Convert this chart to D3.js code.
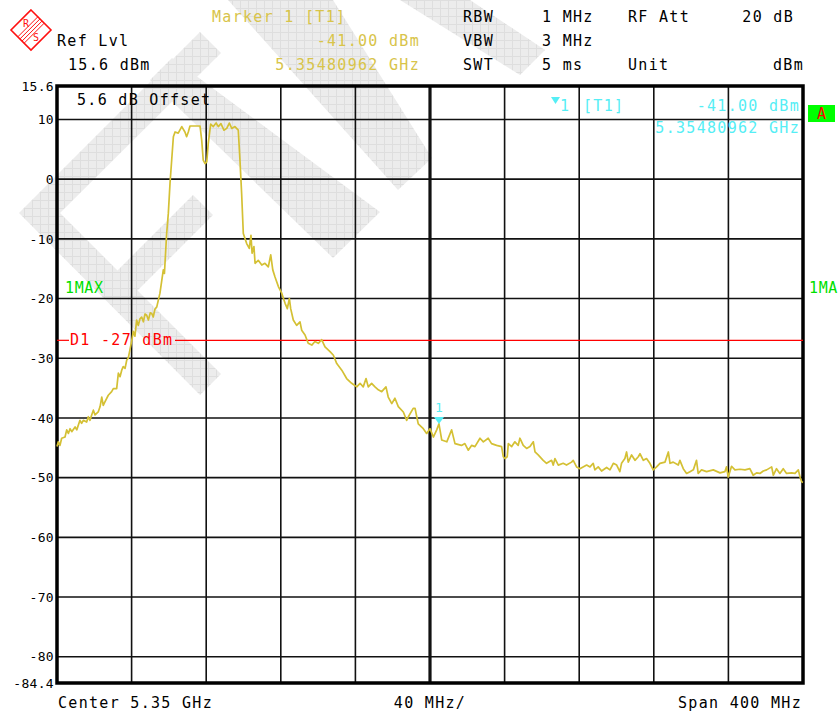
<!DOCTYPE html>
<html>
<head>
<meta charset="utf-8">
<script src="https://cdn.jsdelivr.net/npm/d3@7"></script>
<style>
  body { margin: 0; background: #fff; }
  text { font-family: 'DejaVu Sans Mono', monospace; }
</style>
</head>
<body>
<script>
  // sweep settings
  const startMHz = 5150;
  const stopMHz = 5550;
  const refLevel = 15.6;
  const bottomLevel = -84.4;

  const freqTicks = [5150, 5190, 5230, 5270, 5310, 5350, 5390, 5430, 5470, 5510, 5550];
  const levelTicks = [10, 0, -10, -20, -30, -40, -50, -60, -70, -80];
  const levelLabels = ['15.6', '10', '0', '-10', '-20', '-30', '-40', '-50', '-60', '-70', '-80', '-84.4'];
  const labelLevels = [15.6, 10, 0, -10, -20, -30, -40, -50, -60, -70, -80, -84.4];

  const displayLine = -27;
  const marker = { freq: 5354.80962, level: -41.0 };

  const headerLeft = ['Ref Lvl', '15.6 dBm'];
  const markerHead = ['Marker 1 [T1]', '-41.00 dBm', '5.35480962 GHz'];
  const settingNames = ['RBW', 'VBW', 'SWT'];
  const settingValues = ['1 MHz', '3 MHz', '5 ms'];
  const bottomLabels = ['Center 5.35 GHz', '40 MHz/', 'Span 400 MHz'];

  // max hold trace, [MHz, dBm]
  const trace = [
    [5150.0,-44.8],[5150.7,-44.0],[5151.6,-44.6],[5152.5,-43.4],[5154.3,-43.2],[5155.2,-42.0],[5156.1,-42.6],
    [5157.0,-41.8],[5157.9,-42.3],[5159.7,-41.5],[5160.6,-42.0],[5162.3,-40.4],[5163.2,-40.9],[5164.1,-40.4],
    [5165.9,-40.7],[5166.8,-39.8],[5167.7,-40.4],[5168.6,-39.5],[5169.5,-38.7],[5170.4,-39.5],[5172.1,-39.0],
    [5173.1,-38.1],[5174.0,-36.5],[5174.8,-37.9],[5175.7,-37.3],[5177.5,-36.2],[5179.3,-35.6],[5180.2,-35.1],
    [5182.0,-35.1],[5182.9,-32.5],[5183.8,-33.1],[5184.7,-32.0],[5185.5,-31.4],[5186.5,-31.7],[5187.4,-30.3],
    [5188.2,-30.0],[5189.1,-28.6],[5190.1,-27.0],[5190.9,-25.5],[5191.8,-26.3],[5192.7,-23.6],[5193.6,-24.5],
    [5194.5,-23.4],[5195.4,-23.1],[5196.3,-23.9],[5197.2,-22.6],[5198.1,-22.8],[5199.0,-23.6],[5200.0,-22.4],
    [5200.8,-22.5],[5201.6,-23.1],[5202.5,-21.8],[5203.5,-21.4],[5205.2,-19.1],[5207.0,-15.2],[5207.6,-15.8],
    [5208.8,-9.1],[5209.7,-5.7],[5210.6,-0.7],[5211.5,3.2],[5212.4,7.1],[5213.3,7.9],[5215.0,7.7],
    [5216.9,8.8],[5218.6,7.9],[5219.5,7.1],[5220.4,7.9],[5221.3,8.9],[5224.0,8.9],[5226.7,8.9],
    [5227.6,6.5],[5228.4,3.2],[5229.4,2.6],[5230.3,2.9],[5231.1,6.0],[5232.4,9.2],[5233.8,8.8],
    [5235.3,9.4],[5236.5,8.8],[5237.9,9.3],[5239.5,8.2],[5241.0,8.5],[5242.4,9.4],[5243.7,8.5],
    [5245.4,8.8],[5247.2,8.2],[5248.1,3.2],[5249.0,-2.4],[5249.9,-9.1],[5251.7,-10.8],[5253.1,-11.6],
    [5254.0,-9.4],[5254.6,-12.4],[5255.6,-11.3],[5256.2,-14.1],[5257.9,-13.6],[5259.8,-14.4],[5261.5,-14.1],
    [5263.3,-14.7],[5264.6,-12.7],[5265.7,-15.2],[5266.9,-16.4],[5268.7,-18.0],[5270.5,-19.1],[5272.3,-20.8],
    [5273.5,-21.7],[5274.6,-20.0],[5275.3,-21.7],[5276.7,-23.6],[5278.5,-24.5],[5280.3,-23.9],[5281.2,-25.3],
    [5283.0,-26.1],[5284.7,-27.5],[5286.6,-27.8],[5288.3,-27.2],[5290.1,-27.5],[5291.9,-26.9],[5293.7,-28.1],
    [5296.4,-28.9],[5298.2,-29.5],[5300.0,-30.9],[5302.7,-32.0],[5305.3,-33.4],[5308.0,-34.2],[5310.7,-34.8],
    [5312.5,-34.2],[5314.2,-34.8],[5315.7,-33.4],[5316.9,-34.8],[5318.7,-34.2],[5320.5,-34.8],[5322.3,-35.3],
    [5324.1,-35.6],[5326.4,-34.8],[5327.6,-36.5],[5329.5,-37.6],[5331.2,-36.7],[5333.0,-38.1],[5335.7,-39.0],
    [5337.5,-40.4],[5338.4,-39.8],[5341.0,-38.4],[5342.0,-38.4],[5342.9,-39.8],[5343.7,-41.0],[5346.4,-41.8],
    [5348.2,-42.6],[5350.0,-41.8],[5351.8,-43.2],[5353.6,-42.0],[5354.8,-41.0],[5356.3,-43.7],[5359.0,-44.0],
    [5361.6,-42.0],[5363.4,-44.3],[5366.9,-44.6],[5368.7,-44.3],[5370.5,-45.4],[5372.3,-44.6],[5374.1,-44.8],
    [5376.8,-43.4],[5378.6,-44.0],[5381.2,-43.4],[5383.0,-44.3],[5385.7,-44.6],[5388.4,-44.8],[5389.3,-46.5],
    [5390.2,-46.8],[5391.4,-46.5],[5392.0,-44.3],[5393.8,-44.8],[5395.5,-44.0],[5397.3,-44.6],[5398.2,-43.4],
    [5400.0,-44.6],[5401.8,-45.1],[5403.6,-44.8],[5405.4,-44.0],[5406.3,-45.7],[5408.0,-46.2],[5410.7,-47.1],
    [5412.5,-47.6],[5415.2,-47.1],[5416.1,-47.9],[5417.0,-46.8],[5418.8,-47.9],[5421.4,-47.6],[5423.2,-47.9],
    [5425.9,-47.4],[5426.8,-47.1],[5428.6,-48.2],[5430.4,-48.5],[5434.0,-47.9],[5435.8,-48.2],[5437.5,-47.6],
    [5438.4,-48.7],[5440.2,-48.2],[5442.0,-48.9],[5444.7,-48.3],[5446.5,-48.7],[5448.3,-47.6],[5450.1,-47.9],
    [5451.8,-49.0],[5452.7,-47.6],[5454.5,-46.8],[5455.4,-45.7],[5456.3,-47.4],[5458.1,-46.2],[5459.9,-47.1],
    [5461.7,-46.5],[5462.6,-46.0],[5464.4,-47.1],[5466.1,-46.8],[5467.9,-47.6],[5469.7,-48.7],[5471.5,-48.2],
    [5473.3,-47.6],[5476.0,-47.4],[5477.8,-45.7],[5478.7,-47.6],[5480.4,-47.4],[5483.1,-47.9],[5484.0,-47.1],
    [5485.8,-48.5],[5487.6,-49.3],[5489.4,-49.0],[5491.2,-48.7],[5492.9,-47.1],[5493.8,-49.3],[5495.6,-48.7],
    [5498.3,-49.0],[5501.9,-48.7],[5505.5,-49.2],[5508.1,-49.0],[5509.0,-48.2],[5509.9,-49.9],[5511.7,-48.1],
    [5513.5,-48.7],[5516.2,-48.6],[5518.9,-48.7],[5521.5,-48.5],[5523.3,-49.6],[5525.1,-49.2],[5526.9,-49.3],
    [5528.7,-48.9],[5530.5,-48.7],[5533.2,-48.2],[5534.1,-49.6],[5535.8,-48.5],[5537.6,-49.3],[5539.4,-48.5],
    [5541.2,-49.3],[5543.9,-49.2],[5545.7,-49.3],[5547.5,-48.7],[5548.4,-49.9],[5549.3,-50.7],[5550.0,-50.8]
  ];

  // light R&S watermark behind the screen (screen pixels)
  const watermark = [
    [[19,213],[200,32],[221,53],[60,213]],
    [[19,213],[60,213],[221,374],[200,395]],
    [[193,195],[213,215],[137,291],[117,271]],
    [[150,80],[172,58],[380,212],[333,258]],
    [[228,0],[333,0],[432,158],[398,190]],
    [[400,0],[470,0],[545,50],[520,75]]
  ];

  const width = 840;
  const height = 713;
  const plot = { left: 57, right: 803, top: 86, bottom: 683 };

  const svg = d3.select('body')
          .append('svg')
          .attr('width', width)
          .attr('height', height);

  const x = d3.scaleLinear().domain([startMHz, stopMHz]).range([plot.left, plot.right]);
  const y = d3.scaleLinear().domain([bottomLevel, refLevel]).range([plot.bottom, plot.top]);

  // hatch pattern for the watermark
  const pat = svg.append('defs').append('pattern')
          .attr('id', 'hatch')
          .attr('patternUnits', 'userSpaceOnUse')
          .attr('width', 8).attr('height', 8);
  pat.append('rect').attr('width', 8).attr('height', 8).attr('fill', '#ececec');
  pat.append('path').attr('d', 'M0 0.5H8M0.5 0V8').attr('stroke', '#dedede').attr('stroke-width', 1);

  svg.append('g')
          .selectAll('polygon')
          .data(watermark)
          .enter()
          .append('polygon')
          .attr('points', d => d.map(p => p.join(',')).join(' '))
          .attr('fill', 'url(#hatch)');

  // R&S logo
  const logo = svg.append('g').attr('transform', 'translate(31,30)');
  logo.append('path')
          .attr('d', 'M0 -20L20 0L0 20L-20 0Z')
          .attr('fill', 'none').attr('stroke', '#ff1010').attr('stroke-width', 1.6);
  [-4.5, -1.5, 1.5, 4.5].forEach(o => {
    const k = o / Math.SQRT2;
    logo.append('line')
            .attr('x1', -10 + k).attr('y1', 10 + k).attr('x2', 10 + k).attr('y2', -10 + k)
            .attr('stroke', '#ff1010').attr('stroke-width', 1);
  });
  logo.append('text').attr('x', -8).attr('y', -3).attr('font-size', 10).attr('fill', '#ff1010').text('R');
  logo.append('text').attr('x', 2).attr('y', 11).attr('font-size', 10).attr('fill', '#ff1010').text('S');

  const head = svg.append('g')
          .attr('font-size', 15)
          .attr('letter-spacing', 1.3);

  head.append('text').attr('x', 57).attr('y', 46).attr('fill', '#000').text(headerLeft[0]);
  head.append('text').attr('x', 68).attr('y', 70).attr('fill', '#000').text(headerLeft[1]);

  head.append('text').attr('x', 212).attr('y', 22).attr('fill', '#d8c44a').text(markerHead[0]);
  head.selectAll('.mval')
          .data(markerHead.slice(1))
          .enter()
          .append('text')
          .attr('x', 420)
          .attr('y', (d, i) => 46 + i * 24)
          .attr('text-anchor', 'end')
          .attr('fill', '#d8c44a')
          .text(d => d);

  head.selectAll('.sname')
          .data(settingNames)
          .enter()
          .append('text')
          .attr('x', 463)
          .attr('y', (d, i) => 22 + i * 24)
          .text(d => d);
  head.selectAll('.sval')
          .data(settingValues)
          .enter()
          .append('text')
          .attr('x', 542)
          .attr('y', (d, i) => 22 + i * 24)
          .text(d => d);
  head.append('text').attr('x', 628).attr('y', 22).text('RF Att');
  head.append('text').attr('x', 794).attr('y', 22).attr('text-anchor', 'end').text('20 dB');
  head.append('text').attr('x', 628).attr('y', 70).text('Unit');
  head.append('text').attr('x', 804).attr('y', 70).attr('text-anchor', 'end').text('dBm');

  // grid
  const grid = svg.append('g').attr('stroke', '#111').attr('stroke-width', 1.6);
  grid.selectAll('.vline')
          .data(freqTicks.slice(1, -1))
          .enter()
          .append('line')
          .attr('x1', d => x(d)).attr('x2', d => x(d))
          .attr('y1', plot.top).attr('y2', plot.bottom)
          .attr('stroke-width', d => d === 5350 ? 3.2 : 1.6);
  grid.selectAll('.hline')
          .data(levelTicks)
          .enter()
          .append('line')
          .attr('x1', plot.left).attr('x2', plot.right)
          .attr('y1', d => y(d)).attr('y2', d => y(d));

  svg.append('rect')
          .attr('x', plot.left).attr('y', plot.top)
          .attr('width', plot.right - plot.left).attr('height', plot.bottom - plot.top)
          .attr('fill', 'none').attr('stroke', '#000').attr('stroke-width', 3.5);

  svg.append('g')
          .attr('font-size', 13)
          .attr('letter-spacing', 0.3)
          .selectAll('text')
          .data(levelLabels)
          .enter()
          .append('text')
          .attr('x', 54)
          .attr('y', (d, i) => y(labelLevels[i]))
          .attr('dy', '0.36em')
          .attr('text-anchor', 'end')
          .text(d => d);

  // display line D1
  svg.append('line')
          .attr('x1', plot.left).attr('x2', 69)
          .attr('y1', y(displayLine)).attr('y2', y(displayLine))
          .attr('stroke', '#ff0000').attr('stroke-width', 1.2);
  svg.append('line')
          .attr('x1', 175).attr('x2', plot.right)
          .attr('y1', y(displayLine)).attr('y2', y(displayLine))
          .attr('stroke', '#ff0000').attr('stroke-width', 1.2);
  svg.append('text')
          .attr('x', 70).attr('y', y(displayLine) + 5)
          .attr('font-size', 15).attr('letter-spacing', 1.3)
          .attr('fill', '#ff0000')
          .text('D1 -27 dBm');

  // trace
  const line = d3.line().x(d => x(d[0])).y(d => y(d[1]));
  svg.append('path')
          .datum(trace)
          .attr('d', line)
          .attr('fill', 'none')
          .attr('stroke', '#d4c034')
          .attr('stroke-width', 1.7)
          .attr('stroke-linejoin', 'round');

  svg.append('text')
          .attr('x', 77).attr('y', 105)
          .attr('font-size', 15).attr('letter-spacing', 1.3)
          .text('5.6 dB Offset');

  // trace labels (the right one runs off the screen edge)
  svg.append('text').attr('x', 65).attr('y', 293)
          .attr('font-size', 15).attr('letter-spacing', 0.6)
          .attr('fill', '#00e000').text('1MAX');
  svg.append('text').attr('x', 809).attr('y', 293)
          .attr('font-size', 15).attr('letter-spacing', 0.6)
          .attr('fill', '#00e000').text('1MA');

  // marker
  const mx = x(marker.freq), my = y(marker.level);
  svg.append('path')
          .attr('d', `M${mx - 5},${my - 7}L${mx + 5},${my - 7}L${mx},${my}Z`)
          .attr('fill', '#55eef5');
  svg.append('text').attr('x', mx).attr('y', my - 12)
          .attr('text-anchor', 'middle').attr('font-size', 13)
          .attr('fill', '#55eef5').text('1');

  const mk = svg.append('g').attr('font-size', 15).attr('letter-spacing', 1.3).attr('fill', '#55eef5');
  mk.append('path').attr('d', 'M551,97L560,97L555.5,104Z');
  mk.append('text').attr('x', 560).attr('y', 111).text('1');
  mk.append('text').attr('x', 583).attr('y', 111).text('[T1]');
  mk.append('text').attr('x', 800).attr('y', 111).attr('text-anchor', 'end').text('-41.00 dBm');
  mk.append('text').attr('x', 800).attr('y', 133).attr('text-anchor', 'end').text('5.35480962 GHz');

  svg.append('rect').attr('x', 808).attr('y', 105).attr('width', 27).attr('height', 17).attr('fill', '#00ff00');
  svg.append('text').attr('x', 821.5).attr('y', 119).attr('text-anchor', 'middle')
          .attr('font-size', 15).attr('fill', '#ff0000').text('A');

  const foot = svg.append('g').attr('font-size', 15).attr('letter-spacing', 1.3);
  foot.append('text').attr('x', 58).attr('y', 708).text(bottomLabels[0]);
  foot.append('text').attr('x', 430).attr('y', 708).attr('text-anchor', 'middle').text(bottomLabels[1]);
  foot.append('text').attr('x', 802).attr('y', 708).attr('text-anchor', 'end').text(bottomLabels[2]);
</script>
</body>
</html>
